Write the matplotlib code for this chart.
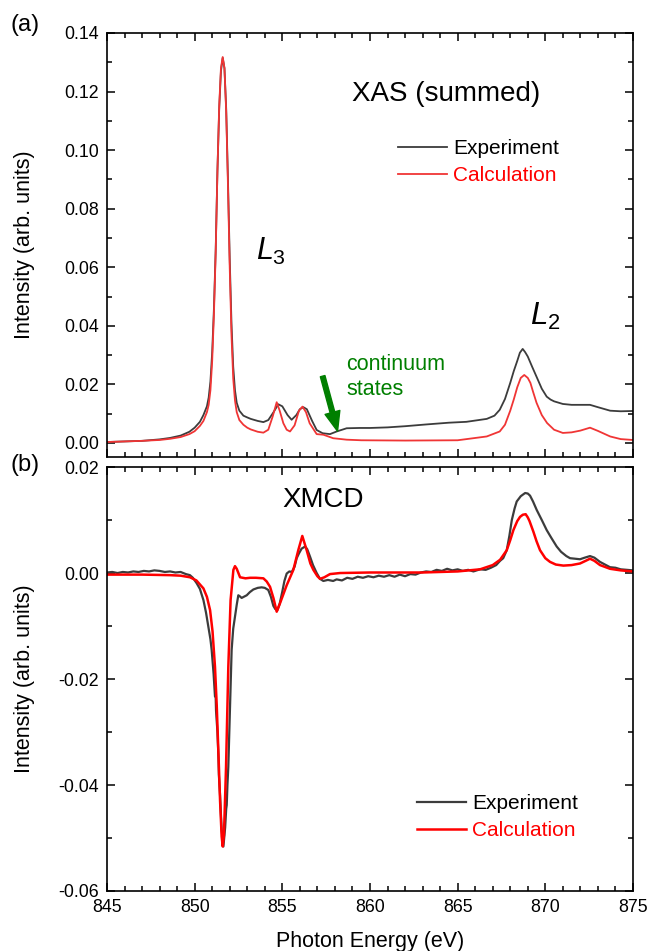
import numpy as np
import matplotlib
matplotlib.use('Agg')
import matplotlib.pyplot as plt
from matplotlib.ticker import MultipleLocator, FormatStrFormatter

plt.rcParams['font.family'] = ['Liberation Sans', 'DejaVu Sans']
plt.rcParams['mathtext.fontset'] = 'custom'
plt.rcParams['mathtext.rm'] = 'Liberation Sans'
plt.rcParams['mathtext.it'] = 'Liberation Sans:italic'

# (a) XAS summed
xas_exp_e = [845, 846, 847, 848, 848.6, 849.2, 849.7, 850.0, 850.3, 850.5, 850.7, 850.8,
             850.9, 851.0, 851.1, 851.2, 851.3, 851.4, 851.5, 851.6, 851.7, 851.8, 851.9,
             852.0, 852.1, 852.2, 852.3, 852.4, 852.55, 852.78, 853.0, 853.2, 853.6, 853.92,
             854.2, 854.5, 854.77, 855.0, 855.3, 855.53, 855.8, 856.0, 856.2, 856.4, 856.7,
             856.96, 857.3, 857.72, 858.1, 858.67, 859.4, 860, 861, 862, 863.2, 864.5, 865.5,
             866.66, 867.1, 867.4, 867.7, 868.0, 868.2, 868.4, 868.55, 868.71, 868.85, 869.0,
             869.25, 869.5, 869.8, 870.08, 870.3, 870.5, 871.0, 871.5, 872.0, 872.55, 873.0,
             873.7, 874.3, 875]
xas_exp = [0.0003, 0.0005, 0.0007, 0.0012, 0.0017, 0.0025, 0.0038, 0.0052, 0.0072, 0.0095,
           0.0125, 0.0155, 0.0210, 0.0310, 0.0460, 0.0660, 0.0930, 0.1140, 0.1270, 0.1315,
           0.1280, 0.1140, 0.0900, 0.0630, 0.0410, 0.0260, 0.0180, 0.0137, 0.0110, 0.0093,
           0.0087, 0.0082, 0.0075, 0.0071, 0.0078, 0.0105, 0.0132, 0.0125, 0.0095, 0.0079,
           0.0095, 0.0115, 0.0122, 0.0115, 0.0075, 0.0044, 0.0033, 0.0030, 0.0039, 0.0050,
           0.0051, 0.0051, 0.0053, 0.0057, 0.0063, 0.0069, 0.0072, 0.0082, 0.0093, 0.0113,
           0.0150, 0.0205, 0.0245, 0.0280, 0.0308, 0.0321, 0.0310, 0.0295, 0.0260, 0.0226,
           0.0185, 0.0158, 0.0148, 0.0142, 0.0133, 0.0130, 0.0130, 0.0130, 0.0122, 0.0110,
           0.0108, 0.0109]

xas_calc_e = [845, 846, 847, 848, 848.6, 849.2, 849.7, 850.0, 850.3, 850.5, 850.7, 850.8,
              850.9, 851.0, 851.1, 851.2, 851.3, 851.4, 851.5, 851.6, 851.7, 851.8, 851.9,
              852.0, 852.1, 852.2, 852.3, 852.4, 852.55, 852.78, 853.0, 853.2, 853.6, 853.92,
              854.2, 854.45, 854.68, 854.85, 855.06, 855.25, 855.44, 855.7, 855.95, 856.15,
              856.35, 856.56, 856.96, 857.34, 857.9, 858.67, 859.5, 862, 865, 866.66, 867.4,
              867.7, 868.0, 868.2, 868.4, 868.6, 868.8, 869.0, 869.15, 869.3, 869.5, 869.8,
              870.1, 870.5, 871.0, 871.5, 872.0, 872.55, 873.0, 873.7, 874.3, 875]
xas_calc = [0.0003, 0.0005, 0.0007, 0.0010, 0.0014, 0.0020, 0.0030, 0.0040, 0.0058, 0.0075,
            0.0105, 0.0130, 0.0180, 0.0280, 0.0440, 0.0650, 0.0930, 0.1150, 0.1280, 0.1318,
            0.1280, 0.1130, 0.0880, 0.0600, 0.0370, 0.0220, 0.0145, 0.0105, 0.0078, 0.0062,
            0.0052, 0.0046, 0.0038, 0.0035, 0.0045, 0.0090, 0.0139, 0.0110, 0.0067, 0.0045,
            0.0039, 0.0060, 0.0110, 0.0124, 0.0105, 0.0067, 0.0030, 0.0028, 0.0016, 0.0011,
            0.0009, 0.0008, 0.0009, 0.0022, 0.0039, 0.0062, 0.0110, 0.0148, 0.0190, 0.0222,
            0.0232, 0.0222, 0.0205, 0.0175, 0.0137, 0.0095, 0.0068, 0.0045, 0.0034, 0.0036,
            0.0042, 0.0052, 0.0041, 0.0022, 0.0013, 0.0010]

# (b) XMCD
xmcd_exp_e = [845, 845.3, 845.6, 845.9, 846.2, 846.5, 846.8, 847.1, 847.4, 847.7, 848.0,
              848.3, 848.6, 848.9, 849.2, 849.5, 849.73, 849.9, 850.11, 850.3, 850.5, 850.65,
              850.78, 850.9, 850.97, 851.08, 851.16, 851.2, 851.22, 851.3, 851.36, 851.38,
              851.45, 851.54, 851.64, 851.74, 851.8, 851.83, 851.87, 851.92, 852.0, 852.11,
              852.2, 852.3, 852.4, 852.49, 852.58, 852.68, 852.8, 852.97, 853.15, 853.35,
              853.6, 853.82, 854.0, 854.2, 854.35, 854.49, 854.6, 854.72, 854.85, 855.0,
              855.12, 855.25, 855.4, 855.54, 855.7, 855.82, 855.95, 856.1, 856.3, 856.42,
              856.58, 856.75, 856.96, 857.15, 857.34, 857.6, 857.9, 858.1, 858.4, 858.7,
              859.0, 859.3, 859.6, 859.9, 860.2, 860.5, 860.8, 861.1, 861.4, 861.7, 862.0,
              862.3, 862.6, 862.9, 863.2, 863.5, 863.8, 864.1, 864.4, 864.7, 865.0, 865.3,
              865.6, 865.9, 866.28, 866.6, 866.9, 867.2, 867.42, 867.6, 867.8, 867.95, 868.09,
              868.25, 868.37, 868.6, 868.85, 869.0, 869.13, 869.3, 869.51, 869.8, 870.08,
              870.35, 870.65, 870.9, 871.2, 871.41, 871.7, 871.98, 872.25, 872.55, 872.8,
              873.12, 873.4, 873.69, 874.0, 874.3, 874.64, 875]
xmcd_exp = [0.0001, 0.0002, 0.0000, 0.0002, 0.0001, 0.0003, 0.0002, 0.0004, 0.0003, 0.0005,
            0.0004, 0.0002, 0.0003, 0.0001, 0.0002, -0.0002, -0.0004, -0.0009, -0.0019,
            -0.0030, -0.0051, -0.0075, -0.0101, -0.0125, -0.0145, -0.0190, -0.0233, -0.0235,
            -0.0260, -0.0300, -0.0350, -0.0380, -0.0420, -0.0485, -0.0516, -0.0480, -0.0445,
            -0.0438, -0.0400, -0.0366, -0.0270, -0.0145, -0.0105, -0.0082, -0.0060, -0.0042,
            -0.0044, -0.0047, -0.0045, -0.0042, -0.0036, -0.0031, -0.0028, -0.0027, -0.0028,
            -0.0032, -0.0045, -0.0062, -0.0068, -0.0070, -0.0058, -0.0035, -0.0015, -0.0001,
            0.0003, 0.0002, 0.0012, 0.0028, 0.0037, 0.0046, 0.0050, 0.0045, 0.0031, 0.0015,
            0.0000, -0.0011, -0.0015, -0.0013, -0.0015, -0.0012, -0.0014, -0.0009, -0.0011,
            -0.0007, -0.0009, -0.0006, -0.0008, -0.0005, -0.0007, -0.0004, -0.0007, -0.0003,
            -0.0006, -0.0002, -0.0003, 0.0001, 0.0003, 0.0002, 0.0006, 0.0004, 0.0008, 0.0005,
            0.0007, 0.0004, 0.0006, 0.0003, 0.0007, 0.0006, 0.0010, 0.0015, 0.0023, 0.0028,
            0.0043, 0.0070, 0.0100, 0.0122, 0.0135, 0.0145, 0.0151, 0.0150, 0.0146, 0.0135,
            0.0119, 0.0100, 0.0081, 0.0066, 0.0050, 0.0040, 0.0032, 0.0028, 0.0027, 0.0026,
            0.0029, 0.0032, 0.0029, 0.0021, 0.0016, 0.0011, 0.0010, 0.0007, 0.0006, 0.0005]

xmcd_calc_e = [845, 847, 848.59, 849.2, 849.73, 850.1, 850.5, 850.7, 850.88, 851.02, 851.16,
               851.26, 851.35, 851.45, 851.54, 851.6, 851.67, 851.79, 851.92, 852.05, 852.21,
               852.3, 852.4, 852.59, 852.9, 853.16, 853.5, 853.92, 854.11, 854.3, 854.5,
               854.68, 854.87, 855.06, 855.25, 855.63, 855.91, 856.14, 856.39, 856.6, 856.77,
               857.0, 857.15, 857.4, 857.72, 858.3, 860, 863, 865, 866.28, 867.0, 867.42,
               867.8, 868.0, 868.18, 868.4, 868.56, 868.72, 868.88, 869.0, 869.1, 869.32,
               869.5, 869.7, 870.0, 870.27, 870.6, 871.03, 871.5, 871.98, 872.3, 872.55,
               872.8, 873.12, 873.69, 874.3, 875]
xmcd_calc = [-0.0003, -0.0003, -0.0004, -0.0005, -0.0008, -0.0014, -0.0029, -0.0045, -0.0070,
             -0.0110, -0.0177, -0.0250, -0.0334, -0.0430, -0.0497, -0.0516, -0.0495, -0.0366,
             -0.0177, -0.0051, 0.0006, 0.0013, 0.0008, -0.0008, -0.0010, -0.0009, -0.0009,
             -0.0010, -0.0016, -0.0026, -0.0048, -0.0073, -0.0057, -0.0040, -0.0023, 0.0006,
             0.0043, 0.0070, 0.0043, 0.0018, 0.0006, -0.0006, -0.0011, -0.0008, -0.0002,
             0.0000, 0.0001, 0.0001, 0.0003, 0.0007, 0.0015, 0.0025, 0.0043, 0.0062, 0.0081,
             0.0098, 0.0106, 0.0110, 0.0111, 0.0105, 0.0098, 0.0078, 0.0060, 0.0043, 0.0028,
             0.0021, 0.0016, 0.0014, 0.0015, 0.0018, 0.0023, 0.0027, 0.0023, 0.0015, 0.0008,
             0.0005, 0.0003]

grey = '#3c3c3c'
red = '#ff0000'
green = '#007f00'

fig = plt.figure(figsize=(6.48, 9.51), dpi=100)
ax1 = fig.add_axes([0.1651, 0.5195, 0.8117, 0.4458])
ax2 = fig.add_axes([0.1651, 0.0631, 0.8117, 0.4458])

ax1.plot(xas_exp_e, xas_exp, color=grey, lw=1.3, label='Experiment')
ax1.plot(xas_calc_e, xas_calc, color='#f03535', lw=1.3, label='Calculation')
ax1.set_ylim(-0.0048, 0.14)
ax1.yaxis.set_major_locator(MultipleLocator(0.02))
ax1.yaxis.set_minor_locator(MultipleLocator(0.01))

ax2.plot(xmcd_exp_e, xmcd_exp, color=grey, lw=1.6, label='Experiment')
ax2.plot(xmcd_calc_e, xmcd_calc, color=red, lw=1.8, label='Calculation')
ax2.set_ylim(-0.06, 0.02)
ax2.yaxis.set_major_locator(MultipleLocator(0.02))
ax2.yaxis.set_minor_locator(MultipleLocator(0.01))

for ax in (ax1, ax2):
    ax.set_xlim(845, 875)
    ax.xaxis.set_major_locator(MultipleLocator(5))
    ax.xaxis.set_minor_locator(MultipleLocator(1))
    ax.yaxis.set_major_formatter(FormatStrFormatter('%.2f'))
    ax.tick_params(which='both', direction='in', top=True, right=True, width=1.1,
                   labelsize=12.8, pad=6)
    ax.tick_params(which='major', length=6)
    ax.tick_params(which='minor', length=3.5)
    for s in ax.spines.values():
        s.set_linewidth(1.2)
ax1.tick_params(labelbottom=False)

for ax, anchor in ((ax1, (0.553, 0.750)), (ax2, (0.589, 0.229))):
    leg = ax.legend(loc='upper left', bbox_to_anchor=anchor, frameon=False,
                    fontsize=15, handlelength=2.35, handletextpad=0.3, labelspacing=0.4,
                    borderpad=0, borderaxespad=0)
    leg.get_texts()[0].set_color('black')
    leg.get_texts()[1].set_color(red)

ax1.text(859.0, 0.1192, 'XAS (summed)', fontsize=20, va='center', ha='left')
ax1.text(853.5, 0.0625, '$L_3$', fontsize=22, ha='left', va='baseline')
ax1.text(869.15, 0.0403, '$L_2$', fontsize=22.5, ha='left', va='baseline')
ax1.text(858.65, 0.0226, 'continuum\nstates', fontsize=15.5, color=green, ha='left',
         va='center', linespacing=1.25)
ax1.annotate('', xy=(858.15, 0.0040), xytext=(857.3, 0.0228),
             arrowprops=dict(facecolor=green, edgecolor=green, width=3.4, headwidth=11,
                             headlength=14, shrink=0))

ax2.text(855.0, 0.0138, 'XMCD', fontsize=20, va='center', ha='left')

fig.text(25 / 648, 1 - 245 / 951, 'Intensity (arb. units)', rotation=90, fontsize=15.5,
         ha='center', va='center')
fig.text(25 / 648, 1 - 679 / 951, 'Intensity (arb. units)', rotation=90, fontsize=15.5,
         ha='center', va='center')
fig.text(370 / 648, 1 - 941 / 951, 'Photon Energy (eV)', fontsize=15.5, ha='center',
         va='center')
fig.text(11 / 648, 1 - 25 / 951, '(a)', fontsize=17, ha='left', va='center')
fig.text(11 / 648, 1 - 465 / 951, '(b)', fontsize=17, ha='left', va='center')

fig.savefig('out.png', dpi=100)
